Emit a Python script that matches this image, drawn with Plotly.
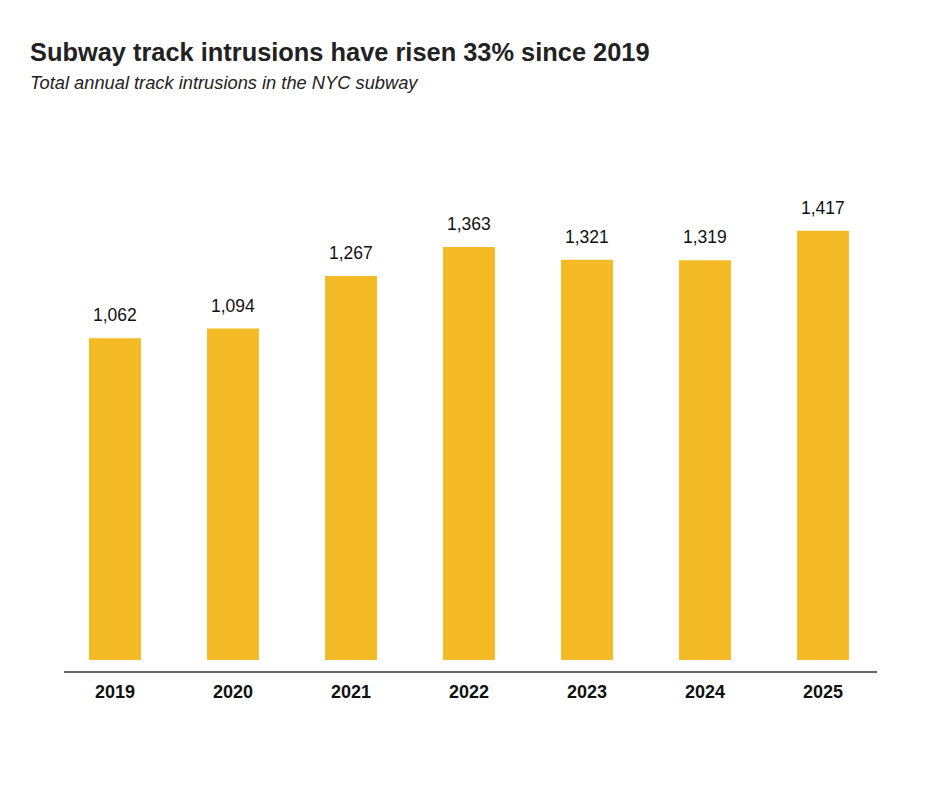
import plotly.graph_objects as go

years = ["2019", "2020", "2021", "2022", "2023", "2024", "2025"]
intrusions = [1062, 1094, 1267, 1363, 1321, 1319, 1417]
value_labels = [f"{v:,}" for v in intrusions]

title_text = "Subway track intrusions have risen 33% since 2019"
subtitle_text = "Total annual track intrusions in the NYC subway"

BAR = "#F4BB26"
FONT = "Liberation Sans, Arial, sans-serif"

idx = list(range(len(years)))

fig = go.Figure()
fig.add_trace(go.Bar(
    x=idx, y=intrusions,
    marker=dict(color=BAR, line=dict(width=0)),
    customdata=years,
    hovertemplate="%{customdata}: %{y:,}<extra></extra>",
))

for i, v, lab in zip(idx, intrusions, value_labels):
    fig.add_annotation(x=i, y=v, text=lab, showarrow=False,
                       xref="x", yref="y", yanchor="middle", yshift=23,
                       font=dict(family=FONT, size=17.5, color="#111111"))

W, H = 940, 793
ml, mr, mt, mb = 56, 58, 140, 133
plot_h = H - mt - mb
plot_w = W - ml - mr

def py(px):
    return (H - mb - px) / plot_h

def px_x(px):
    return (px - ml) / plot_w

fig.add_annotation(x=px_x(28), y=py(52), xref="paper", yref="paper",
                   xanchor="left", yanchor="middle", showarrow=False,
                   text=f"<b>{title_text}</b>",
                   font=dict(family=FONT, size=25.4, color="#222222"))
fig.add_annotation(x=px_x(28), y=py(83), xref="paper", yref="paper",
                   xanchor="left", yanchor="middle", showarrow=False,
                   text=f"<i>{subtitle_text}</i>",
                   font=dict(family=FONT, size=18.3, color="#222222"))

# baseline axis line
fig.add_shape(type="line", xref="paper", yref="paper",
              x0=px_x(64), x1=px_x(877), y0=py(672), y1=py(672),
              line=dict(color="#666666", width=2))

fig.update_layout(
    width=W, height=H,
    margin=dict(l=ml, r=mr, t=mt, b=mb, autoexpand=False),
    paper_bgcolor="white", plot_bgcolor="white",
    bargap=0.56,
    showlegend=False,
    font=dict(family=FONT),
    xaxis=dict(range=[-0.5, 6.5], showgrid=False, zeroline=False,
               showline=False, ticks="", ticklabelstandoff=19,
               tickmode="array", tickvals=idx, ticktext=years,
               tickfont=dict(family=FONT, size=18, color="#111111", weight="bold")),
    yaxis=dict(range=[0, plot_h / 0.303], showgrid=False, zeroline=False,
               showline=False, showticklabels=False, ticks=""),
)

fig.write_html("out.html")
